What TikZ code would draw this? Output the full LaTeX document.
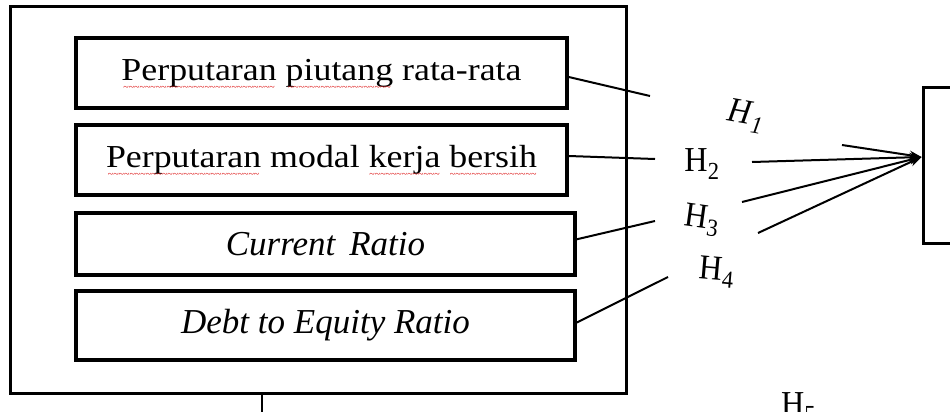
\documentclass[tikz,border=0pt]{standalone}
\usepackage{fontspec}
\setmainfont{Liberation Serif}
\newfontfamily\widefont[FakeStretch=1.12]{Liberation Serif}
\newfontfamily\hfont[FakeStretch=0.92]{Liberation Serif}
\usetikzlibrary{arrows.meta}
\newsavebox\sqbox
\newcommand\sqw[1]{\sbox\sqbox{#1}\rlap{\usebox\sqbox}\raisebox{-10pt}[0pt][0pt]{\color{red!85!black}\hbox to \wd\sqbox{\cleaders\hbox{\rmfamily\fontsize{10}{10}\selectfont\char"7E}\hfill}}}
\begin{document}
\begin{tikzpicture}[x=1pt,y=-1pt,
  frame/.style={draw,line width=3pt,inner sep=0pt},
  inbox/.style={draw,line width=3.5pt,inner sep=0pt,font=\widefont\fontsize{32}{36}\selectfont},
  itbox/.style={draw,line width=3.5pt,inner sep=0pt,font=\rmfamily\itshape\fontsize{35}{38}\selectfont},
  conn/.style={line width=2pt},
  arr/.style={line width=2pt,-{Stealth[length=12pt,width=9pt]}},
  hlab/.style={font=\hfont\fontsize{35}{38}\selectfont,inner sep=0pt}
]
\useasboundingbox (0,0) rectangle (950,412);
\node[frame,minimum width=616,minimum height=386] (outer) at (318,200) {};
\node[inbox,minimum width=491,minimum height=70] (b1) at (321.5,73) {\sqw{Perputaran} \sqw{piutang} rata-rata};
\node[inbox,minimum width=491,minimum height=70] (b2) at (321.5,160) {\sqw{Perputaran} modal \sqw{kerja} \sqw{bersih}};
\node[itbox,minimum width=499,minimum height=62] (b3) at (325.5,244) {Current\hspace{0.4em}Ratio};
\node[itbox,minimum width=499,minimum height=69] (b4) at (325.5,325.5) {Debt to Equity Ratio};
\node[frame,minimum width=67,minimum height=156] (tgt) at (956.5,165) {};
% free ends of the left connectors
\coordinate (e1) at (650,96);
\coordinate (e2) at (655,159);
\coordinate (e3) at (655,221);
\coordinate (e4) at (668,277);
\draw[conn] ([yshift=-4pt]b1.east) -- (e1);
\draw[conn] ([yshift=4pt]b2.east) -- (e2);
\draw[conn] ([xshift=-3pt,yshift=4pt]b3.east) -- (e3);
\draw[conn] ([yshift=3pt]b4.east) -- (e4);
% starts of the arrows
\coordinate (s1) at (842,145);
\coordinate (s2) at (752,162);
\coordinate (s3) at (742,202);
\coordinate (s4) at (758,233);
\draw[arr] (s1) -- ([yshift=8pt]tgt.west);
\draw[arr] (s2) -- ([yshift=8pt]tgt.west);
\draw[arr] (s3) -- ([yshift=8pt]tgt.west);
\draw[arr] (s4) -- ([yshift=8pt]tgt.west);
% hypothesis labels
\node[hlab,rotate=-10] (h1) at (746,116) {\textit{H}\textsubscript{\textit{1}}};
\node[hlab] (h2) at (702,164) {H\textsubscript{2}};
\node[hlab,rotate=-8] (h3) at (702,220) {H\textsubscript{3}};
\node[hlab,rotate=-5] (h4) at (717,272) {H\textsubscript{4}};
\node[hlab,anchor=base west] (h5) at (781,415) {H\textsubscript{5}};
% stem below the outer box
\coordinate (st) at (262,416);
\draw[conn] ([xshift=-56pt]outer.south) -- (st);
\end{tikzpicture}
\end{document}
